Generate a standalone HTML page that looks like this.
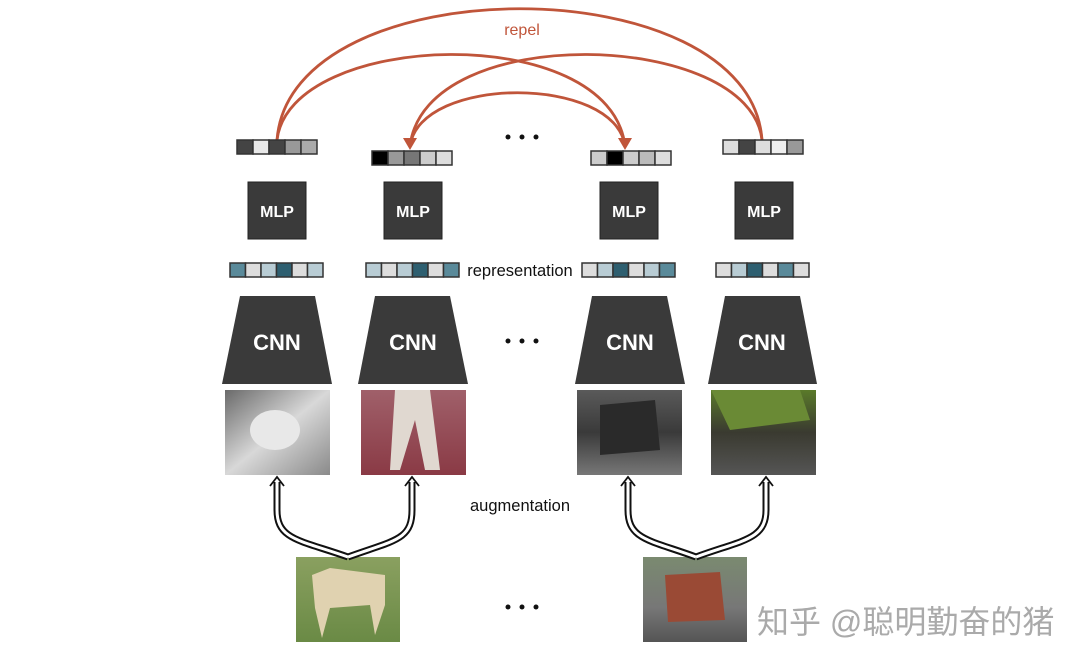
<!DOCTYPE html>
<html><head><meta charset="utf-8"><style>
html,body{margin:0;padding:0;background:#fff;}
svg{display:block;}
text{font-family:"Liberation Sans","Noto Sans CJK SC",sans-serif;}
</style></head><body>
<svg width="1080" height="665" viewBox="0 0 1080 665" xmlns="http://www.w3.org/2000/svg">
<defs>
<linearGradient id="g1" x1="0" y1="0" x2="1" y2="1"><stop offset="0" stop-color="#6a6a6a"/><stop offset=".5" stop-color="#d8d8d8"/><stop offset="1" stop-color="#8a8a8a"/></linearGradient>
<linearGradient id="g2" x1="0" y1="0" x2="0" y2="1"><stop offset="0" stop-color="#a0606a"/><stop offset="1" stop-color="#8a3a45"/></linearGradient>
<linearGradient id="g3" x1="0" y1="0" x2="0" y2="1"><stop offset="0" stop-color="#5a5a5a"/><stop offset=".5" stop-color="#3a3a3a"/><stop offset="1" stop-color="#777"/></linearGradient>
<linearGradient id="g4" x1="0" y1="0" x2="0" y2="1"><stop offset="0" stop-color="#5a7a2a"/><stop offset=".5" stop-color="#3a3a30"/><stop offset="1" stop-color="#555"/></linearGradient>
<linearGradient id="g5" x1="0" y1="0" x2="0" y2="1"><stop offset="0" stop-color="#8aa060"/><stop offset="1" stop-color="#6a8a45"/></linearGradient>
<linearGradient id="g6" x1="0" y1="0" x2="0" y2="1"><stop offset="0" stop-color="#7a8a70"/><stop offset=".6" stop-color="#777"/><stop offset="1" stop-color="#555"/></linearGradient>
</defs>

<g fill="none" stroke="#c0553a" stroke-width="2.8">
<path d="M277 140 C 290 -35, 750 -35, 762 140"/>
<path d="M277 140 C 290 30, 610 20, 625 146"/>
<path d="M762 140 C 750 30, 425 20, 410 146"/>
<path d="M410 146 C 420 75, 615 75, 625 146"/>
</g>
<g fill="#c0553a">
<polygon points="403,138 417,138 410,150"/>
<polygon points="618,138 632,138 625,150"/>
</g>
<text x="522" y="35" font-size="16" fill="#c0553a" text-anchor="middle">repel</text>

<g stroke="#333" stroke-width="1.5">
<rect x="237" y="140" width="16" height="14" fill="#444"/><rect x="253" y="140" width="16" height="14" fill="#e8e8e8"/><rect x="269" y="140" width="16" height="14" fill="#444"/><rect x="285" y="140" width="16" height="14" fill="#999"/><rect x="301" y="140" width="16" height="14" fill="#aaa"/>
<rect x="372" y="151" width="16" height="14" fill="#000"/><rect x="388" y="151" width="16" height="14" fill="#999"/><rect x="404" y="151" width="16" height="14" fill="#777"/><rect x="420" y="151" width="16" height="14" fill="#ccc"/><rect x="436" y="151" width="16" height="14" fill="#ddd"/>
<rect x="591" y="151" width="16" height="14" fill="#ccc"/><rect x="607" y="151" width="16" height="14" fill="#000"/><rect x="623" y="151" width="16" height="14" fill="#ccc"/><rect x="639" y="151" width="16" height="14" fill="#bbb"/><rect x="655" y="151" width="16" height="14" fill="#ddd"/>
<rect x="723" y="140" width="16" height="14" fill="#ddd"/><rect x="739" y="140" width="16" height="14" fill="#444"/><rect x="755" y="140" width="16" height="14" fill="#ddd"/><rect x="771" y="140" width="16" height="14" fill="#eee"/><rect x="787" y="140" width="16" height="14" fill="#999"/>
</g>
<g fill="#111"><circle cx="508" cy="137" r="2.5"/><circle cx="522" cy="137" r="2.5"/><circle cx="536" cy="137" r="2.5"/>
<circle cx="508" cy="341" r="2.5"/><circle cx="522" cy="341" r="2.5"/><circle cx="536" cy="341" r="2.5"/>
<circle cx="508" cy="607" r="2.5"/><circle cx="522" cy="607" r="2.5"/><circle cx="536" cy="607" r="2.5"/></g>

<g fill="#3a3a3a" stroke="#222" stroke-width="1">
<rect x="248" y="182" width="58" height="57"/><rect x="384" y="182" width="58" height="57"/><rect x="600" y="182" width="58" height="57"/><rect x="735" y="182" width="58" height="57"/>
</g>
<g fill="#fff" font-size="16" font-weight="bold" text-anchor="middle">
<text x="277" y="217">MLP</text><text x="413" y="217">MLP</text><text x="629" y="217">MLP</text><text x="764" y="217">MLP</text>
</g>

<g stroke="#333" stroke-width="1.5">
<rect x="230" y="263" width="15.5" height="14" fill="#5a8a9a"/><rect x="245.5" y="263" width="15.5" height="14" fill="#ddd"/><rect x="261" y="263" width="15.5" height="14" fill="#b8ccd4"/><rect x="276.5" y="263" width="15.5" height="14" fill="#2e5f70"/><rect x="292" y="263" width="15.5" height="14" fill="#ddd"/><rect x="307.5" y="263" width="15.5" height="14" fill="#b8ccd4"/>
<rect x="366" y="263" width="15.5" height="14" fill="#b8ccd4"/><rect x="381.5" y="263" width="15.5" height="14" fill="#ddd"/><rect x="397" y="263" width="15.5" height="14" fill="#b8ccd4"/><rect x="412.5" y="263" width="15.5" height="14" fill="#2e5f70"/><rect x="428" y="263" width="15.5" height="14" fill="#ddd"/><rect x="443.5" y="263" width="15.5" height="14" fill="#5a8a9a"/>
<rect x="582" y="263" width="15.5" height="14" fill="#ddd"/><rect x="597.5" y="263" width="15.5" height="14" fill="#b8ccd4"/><rect x="613" y="263" width="15.5" height="14" fill="#2e5f70"/><rect x="628.5" y="263" width="15.5" height="14" fill="#ddd"/><rect x="644" y="263" width="15.5" height="14" fill="#b8ccd4"/><rect x="659.5" y="263" width="15.5" height="14" fill="#5a8a9a"/>
<rect x="716" y="263" width="15.5" height="14" fill="#ddd"/><rect x="731.5" y="263" width="15.5" height="14" fill="#b8ccd4"/><rect x="747" y="263" width="15.5" height="14" fill="#2e5f70"/><rect x="762.5" y="263" width="15.5" height="14" fill="#ddd"/><rect x="778" y="263" width="15.5" height="14" fill="#5a8a9a"/><rect x="793.5" y="263" width="15.5" height="14" fill="#ddd"/>
</g>
<text x="520" y="276" font-size="16.5" fill="#111" text-anchor="middle">representation</text>

<g fill="#3a3a3a">
<polygon points="240,296 315,296 332,384 222,384"/>
<polygon points="375,296 450,296 468,384 358,384"/>
<polygon points="592,296 667,296 685,384 575,384"/>
<polygon points="725,296 800,296 817,384 708,384"/>
</g>
<g fill="#fff" font-size="22" font-weight="bold" text-anchor="middle">
<text x="277" y="350">CNN</text><text x="413" y="350">CNN</text><text x="630" y="350">CNN</text><text x="762" y="350">CNN</text>
</g>

<rect x="225" y="390" width="105" height="85" fill="url(#g1)"/>
<ellipse cx="275" cy="430" rx="25" ry="20" fill="#e8e8e8"/>
<rect x="361" y="390" width="105" height="85" fill="url(#g2)"/>
<path d="M395 390 L430 390 L440 470 L425 470 L415 420 L400 470 L390 470 Z" fill="#e0d8d0"/>
<rect x="577" y="390" width="105" height="85" fill="url(#g3)"/>
<path d="M600 405 L655 400 L660 450 L600 455 Z" fill="#2a2a2a"/>
<rect x="711" y="390" width="105" height="85" fill="url(#g4)"/>
<path d="M711 390 L800 390 L810 420 L730 430 Z" fill="#6a8a35"/>

<rect x="296" y="557" width="104" height="85" fill="url(#g5)"/>
<path d="M312 575 L330 568 L385 575 L385 605 L375 635 L370 605 L330 608 L322 638 L315 608 Z" fill="#e0d2b0"/>
<rect x="643" y="557" width="104" height="85" fill="url(#g6)"/>
<path d="M665 575 L720 572 L725 620 L668 622 Z" fill="#9a4a35"/>

<g fill="none" stroke="#111" stroke-width="7">
<path d="M348 557 C 300 540, 277 540, 277 510 L277 482"/>
<path d="M348 557 C 395 540, 412 540, 412 510 L412 482"/>
<path d="M696 557 C 650 540, 628 540, 628 510 L628 482"/>
<path d="M696 557 C 742 540, 766 540, 766 510 L766 482"/>
</g>
<g fill="none" stroke="#fff" stroke-width="3">
<path d="M348 557 C 300 540, 277 540, 277 510 L277 480"/>
<path d="M348 557 C 395 540, 412 540, 412 510 L412 480"/>
<path d="M696 557 C 650 540, 628 540, 628 510 L628 480"/>
<path d="M696 557 C 742 540, 766 540, 766 510 L766 480"/>
</g>
<g fill="none" stroke="#111" stroke-width="1.8">
<polyline points="270,486 277,477 284,486"/><polyline points="405,486 412,477 419,486"/>
<polyline points="621,486 628,477 635,486"/><polyline points="759,486 766,477 773,486"/>
</g>
<text x="520" y="511" font-size="16.5" fill="#111" text-anchor="middle">augmentation</text>

<text x="757" y="633" font-size="32" fill="#aaa">知乎 @聪明勤奋的猪</text>
</svg>
</body></html>
